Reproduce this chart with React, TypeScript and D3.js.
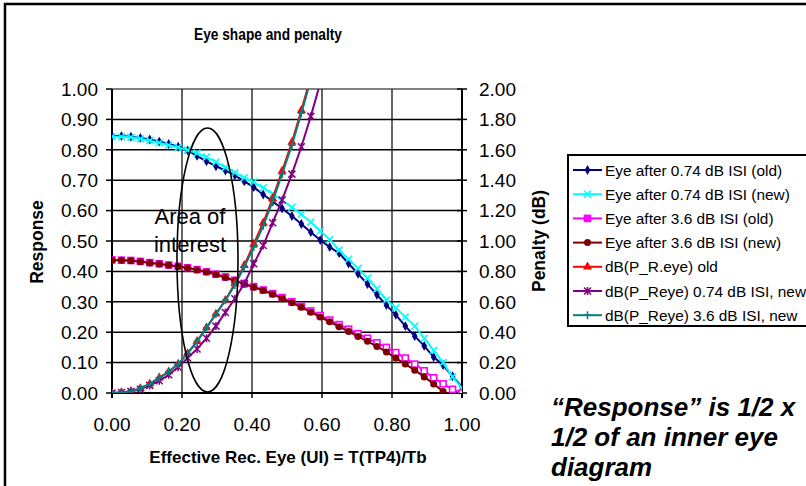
import * as d3 from "d3";

// x positions (UI) shared by all series
const X = [0.000,0.027,0.054,0.081,0.108,0.135,0.162,0.189,0.216,0.243,0.270,0.297,0.324,0.351,0.378,0.405,0.432,0.459,0.486,0.514,0.541,0.568,0.595,0.622,0.649,0.676,0.703,0.730,0.757,0.784,0.811,0.838,0.865,0.892,0.919,0.946,0.973,1.000];

// response (left axis)
const EYE_074_OLD = [0.845,0.845,0.843,0.839,0.834,0.827,0.819,0.810,0.798,0.780,0.762,0.746,0.732,0.716,0.696,0.677,0.653,0.630,0.607,0.582,0.556,0.529,0.503,0.480,0.460,0.426,0.392,0.358,0.323,0.289,0.257,0.220,0.187,0.155,0.118,0.092,0.055,0.020];
const EYE_074_NEW = [0.843,0.843,0.841,0.836,0.830,0.823,0.815,0.808,0.799,0.789,0.776,0.760,0.742,0.725,0.708,0.694,0.675,0.655,0.634,0.611,0.588,0.562,0.533,0.505,0.470,0.440,0.410,0.378,0.343,0.306,0.280,0.250,0.220,0.180,0.140,0.100,0.053,0.015];
const EYE_36_OLD = [0.438,0.437,0.436,0.433,0.429,0.425,0.421,0.417,0.412,0.406,0.399,0.391,0.382,0.371,0.360,0.350,0.339,0.327,0.314,0.300,0.285,0.270,0.255,0.240,0.225,0.210,0.195,0.180,0.165,0.150,0.133,0.115,0.095,0.073,0.050,0.030,0.012,0.000];
const EYE_36_NEW = [0.437,0.437,0.435,0.432,0.428,0.424,0.420,0.416,0.411,0.405,0.398,0.390,0.380,0.369,0.358,0.348,0.337,0.325,0.311,0.297,0.282,0.266,0.250,0.234,0.218,0.202,0.186,0.170,0.153,0.135,0.115,0.095,0.075,0.053,0.030,0.005];

// penalty in dB (right axis)
const PEN_OLD = [0.000,0.004,0.012,0.030,0.060,0.100,0.140,0.190,0.260,0.340,0.430,0.520,0.610,0.720,0.840,0.980,1.120,1.280,1.460,1.650,1.860,2.080];
const PEN_074_NEW = [0.000,0.003,0.010,0.025,0.050,0.080,0.120,0.170,0.230,0.290,0.360,0.440,0.530,0.620,0.720,0.850,0.970,1.120,1.270,1.440,1.620,1.820,2.040];
const PEN_36_NEW = [0.000,0.004,0.012,0.030,0.060,0.100,0.140,0.190,0.260,0.340,0.430,0.520,0.610,0.710,0.830,0.960,1.100,1.260,1.440,1.630,1.840,2.060];

const LEFT_TICKS = [0,0.1,0.2,0.3,0.4,0.5,0.6,0.7,0.8,0.9,1.0];
const RIGHT_TICKS = [0,0.2,0.4,0.6,0.8,1.0,1.2,1.4,1.6,1.8,2.0];
const X_TICKS = [0,0.2,0.4,0.6,0.8,1.0];

type Marker = "diamond" | "x" | "square" | "circle" | "triangle" | "star" | "plus";
const SERIES: { name: string; values: number[]; axis: "L" | "R"; color: string; marker: Marker }[] = [
  { name: "Eye after 0.74 dB ISI (old)", values: EYE_074_OLD, axis: "L", color: "#000080", marker: "diamond" },
  { name: "Eye after 0.74 dB ISI (new)", values: EYE_074_NEW, axis: "L", color: "#00FFFF", marker: "x" },
  { name: "Eye after 3.6 dB ISI (old)", values: EYE_36_OLD, axis: "L", color: "#FF00FF", marker: "square" },
  { name: "Eye after 3.6 dB ISI (new)", values: EYE_36_NEW, axis: "L", color: "#800000", marker: "circle" },
  { name: "dB(P_R.eye) old", values: PEN_OLD, axis: "R", color: "#FF0000", marker: "triangle" },
  { name: "dB(P_Reye) 0.74 dB ISI, new", values: PEN_074_NEW, axis: "R", color: "#800080", marker: "star" },
  { name: "dB(P_Reye) 3.6 dB ISI, new", values: PEN_36_NEW, axis: "R", color: "#008080", marker: "plus" },
];

const FONT = "Arial, 'Liberation Sans', sans-serif";
const PL = 112, PR = 462, PT = 89, PB = 393;

const x = d3.scaleLinear().domain([0, 1]).range([PL, PR]);
const yL = d3.scaleLinear().domain([0, 1]).range([PB, PT]);
const yR = d3.scaleLinear().domain([0, 2]).range([PB, PT]);

function MarkerShape({ type, cx, cy, color, legend }: { type: Marker; cx: number; cy: number; color: string; legend?: boolean }) {
  const t = `translate(${cx},${cy})`;
  switch (type) {
    case "diamond":
      return <path transform={t} d={d3.symbol(d3.symbolDiamond, 28)()!} fill={color} />;
    case "x":
      return <path transform={t} d="M-3.5,-3.5L3.5,3.5M-3.5,3.5L3.5,-3.5" stroke={color} strokeWidth={1.6} />;
    case "square":
      return <rect x={cx - 3} y={cy - 3} width={6} height={6} fill={legend ? color : "#ffffff"} stroke={color} strokeWidth={1.6} />;
    case "circle":
      return <circle cx={cx} cy={cy} r={3.5} fill={color} />;
    case "triangle":
      return <path transform={t} d={d3.symbol(d3.symbolTriangle, 36)()!} fill={color} />;
    case "star":
      return <path transform={t} d="M-3.5,-3.5L3.5,3.5M-3.5,3.5L3.5,-3.5M0,-4L0,4" stroke={color} strokeWidth={1.5} />;
    case "plus":
      return <path transform={t} d="M-3.5,0L3.5,0M0,-4L0,4" stroke={color} strokeWidth={1.5} />;
  }
}

export default function App() {
  const line = d3.line<[number, number]>().x(d => d[0]).y(d => d[1]);
  const legendTop = 170, legendStep = 24.2;

  return (
    <svg width={806} height={486} style={{ position: "absolute", left: 0, top: 0, background: "#fff" }} fontFamily={FONT}>
      <defs>
        <clipPath id="plotClip">
          <rect x={PL} y={PT} width={PR - PL} height={PB - PT} />
        </clipPath>
      </defs>
      <rect x={0} y={0} width={806} height={486} fill="#fff" />
      {/* chart frame */}
      <rect x={5} y={4} width={812} height={500} fill="none" stroke="#000" strokeWidth={2.5} />

      <text x={268} y={40} textAnchor="middle" fontSize={16} fontWeight="bold" textLength={148} lengthAdjust="spacingAndGlyphs">
        Eye shape and penalty
      </text>

      {/* gridlines */}
      {LEFT_TICKS.map(t => (
        <line key={"h" + t} x1={PL} x2={PR} y1={yL(t)} y2={yL(t)} stroke={t === 1 ? "#808080" : "#000"} strokeWidth={t === 1 ? 2 : 1.5} />
      ))}
      {X_TICKS.filter(t => t > 0 && t < 1).map(t => (
        <line key={"v" + t} x1={x(t)} x2={x(t)} y1={PT} y2={PB} stroke="#000" strokeWidth={1.2} />
      ))}

      {/* axes */}
      <line x1={PL} x2={PL} y1={PT} y2={PB + 5} stroke="#000" strokeWidth={2} />
      <line x1={PL} x2={PR} y1={PB} y2={PB} stroke="#000" strokeWidth={2} />
      <line x1={PR} x2={PR} y1={PT} y2={PB + 5} stroke="#000" strokeWidth={2} />
      {LEFT_TICKS.map(t => (
        <g key={"lt" + t}>
          <line x1={PL - 6} x2={PL} y1={yL(t)} y2={yL(t)} stroke="#000" strokeWidth={1.5} />
          <text x={98} y={yL(t)} dy="0.36em" textAnchor="end" fontSize={19}>{t.toFixed(2)}</text>
        </g>
      ))}
      {RIGHT_TICKS.map(t => (
        <g key={"rt" + t}>
          <line x1={PR - 5} x2={PR + 5} y1={yR(t)} y2={yR(t)} stroke="#000" strokeWidth={1.5} />
          <text x={479} y={yR(t)} dy="0.36em" textAnchor="start" fontSize={19}>{t.toFixed(2)}</text>
        </g>
      ))}
      {X_TICKS.map(t => (
        <g key={"xt" + t}>
          <line x1={x(t)} x2={x(t)} y1={PB} y2={PB + 5} stroke="#000" strokeWidth={1.5} />
          <text x={x(t)} y={431} textAnchor="middle" fontSize={19}>{t.toFixed(2)}</text>
        </g>
      ))}

      <text transform="translate(43,242) rotate(-90)" textAnchor="middle" fontSize={17.5} fontWeight="bold">Response</text>
      <text transform="translate(545,241) rotate(-90)" textAnchor="middle" fontSize={17.5} fontWeight="bold">Penalty (dB)</text>
      <text x={288} y={463} textAnchor="middle" fontSize={17} fontWeight="bold">Effective Rec. Eye (UI) = T(TP4)/Tb</text>

      {/* series */}
      <g clipPath="url(#plotClip)">
        {SERIES.map(s => {
          const ys = s.axis === "L" ? yL : yR;
          const pts: [number, number][] = s.values.map((v, i) => [x(X[i]), ys(v)]);
          return (
            <g key={s.name}>
              <path d={line(pts)!} fill="none" stroke={s.color} strokeWidth={2} />
              {pts.map((p, i) => (
                <MarkerShape key={i} type={s.marker} cx={p[0]} cy={p[1]} color={s.color} />
              ))}
            </g>
          );
        })}
      </g>

      {/* area of interest */}
      <ellipse cx={207.5} cy={260} rx={30.5} ry={132} fill="none" stroke="#000" strokeWidth={1.6} />
      <text x={190} y={224} textAnchor="middle" fontSize={22}>Area of</text>
      <text x={190} y={252} textAnchor="middle" fontSize={22}>interest</text>

      {/* legend */}
      <rect x={568} y={155} width={260} height={171} fill="#fff" stroke="#000" strokeWidth={2} />
      {SERIES.map((s, i) => {
        const cy = legendTop + i * legendStep;
        return (
          <g key={"lg" + s.name}>
            <line x1={573} x2={602} y1={cy} y2={cy} stroke={s.color} strokeWidth={2} />
            <MarkerShape type={s.marker} cx={587.5} cy={cy} color={s.color} legend />
            <text x={605} y={cy} dy="0.36em" fontSize={15.4}>{s.name}</text>
          </g>
        );
      })}

      {/* note */}
      <g fontSize={26} fontWeight="bold" fontStyle="italic">
        <text x={551} y={416}>“Response” is 1/2 x</text>
        <text x={551} y={446}>1/2 of an inner eye</text>
        <text x={551} y={476}>diagram</text>
      </g>
    </svg>
  );
}
